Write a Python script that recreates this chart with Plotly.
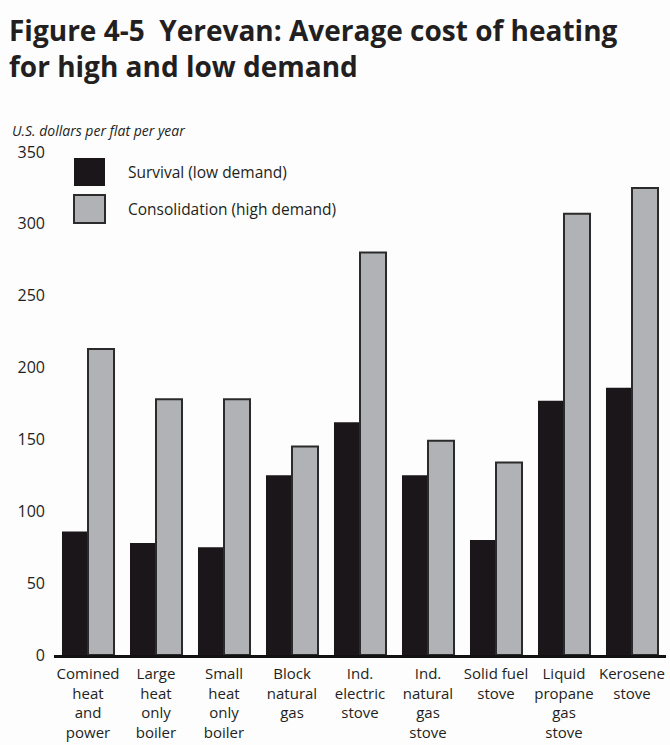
import plotly.graph_objects as go

# Heating options and average annual cost per flat (US$)
categories = [
    "Comined<br>heat<br>and<br>power",
    "Large<br>heat<br>only<br>boiler",
    "Small<br>heat<br>only<br>boiler",
    "Block<br>natural<br>gas",
    "Ind.<br>electric<br>stove",
    "Ind.<br>natural<br>gas<br>stove",
    "Solid fuel<br>stove",
    "Liquid<br>propane<br>gas<br>stove",
    "Kerosene<br>stove",
]
survival_low = [86, 78, 75, 125, 162, 125, 80, 177, 186]
consolidation_high = [213, 178, 178, 145, 280, 149, 134, 307, 325]
series_names = ["Survival (low demand)", "Consolidation (high demand)"]
y_ticks = [0, 50, 100, 150, 200, 250, 300, 350]
heading = "Figure 4-5  Yerevan: Average cost of heating<br>for high and low demand"

W, H = 670, 745
ML, MR, MT, MB = 54, 4, 152, 90
PW, PH = W - ML - MR, H - MT - MB

TEXT = "#231f20"
BLACK = "#1a1619"
GREY = "#b1b2b5"
EDGE = "#2b2b2b"
FONT = "Open Sans"


def px_x(px):
    return (px - ML) / PW


def px_y(py):
    return (H - MB - py) / PH


fig = go.Figure()
fig.add_trace(go.Bar(
    x=categories, y=survival_low, name=series_names[0],
    marker=dict(color=BLACK, line=dict(width=0)),
))
fig.add_trace(go.Bar(
    x=categories, y=consolidation_high, name=series_names[1],
    marker=dict(color=GREY, line=dict(color=EDGE, width=2)),
))

# Legend swatches and labels
legend_rows = [(158, 186, BLACK, 0), (195, 223, GREY, 2)]
for (top, bottom, color, lw), name in zip(legend_rows, series_names):
    fig.add_shape(
        type="rect", xref="paper", yref="paper",
        x0=px_x(74), x1=px_x(105), y0=px_y(bottom), y1=px_y(top),
        fillcolor=color, line=dict(color=EDGE if lw else color, width=lw),
    )
    fig.add_annotation(
        xref="paper", yref="paper", x=px_x(126), y=px_y((top + bottom) / 2),
        xanchor="left", yanchor="middle", text=name, showarrow=False,
        font=dict(family=FONT, size=15.5, color=TEXT),
    )

# Unit label above the value axis
fig.add_annotation(
    xref="paper", yref="paper", x=px_x(10), y=px_y(130),
    xanchor="left", yanchor="middle", showarrow=False,
    text="<i>U.S. dollars per flat per year</i>",
    font=dict(family=FONT, size=14, color=TEXT),
)

# Figure heading
fig.add_annotation(
    xref="paper", yref="paper", x=px_x(7), y=px_y(9),
    xanchor="left", yanchor="top", align="left", showarrow=False,
    text=f"<b>{heading}</b>",
    font=dict(family=FONT, size=28, color=TEXT),
)

fig.update_layout(
    width=W, height=H,
    margin=dict(l=ML, r=MR, t=MT, b=MB, autoexpand=False),
    paper_bgcolor="#fdfdfd", plot_bgcolor="#fdfdfd",
    barmode="group", bargap=0.235, bargroupgap=0,
    showlegend=False,
    font=dict(family=FONT, color=TEXT),
)
fig.update_xaxes(
    showline=True, linecolor="#111111", linewidth=3,
    showgrid=False, ticks="", zeroline=False, automargin=False,
    tickfont=dict(family=FONT, size=15, color=TEXT),
    ticklabelstandoff=3, tickangle=0,
)
fig.update_yaxes(
    range=[0, 350], tickvals=y_ticks, ticktext=[str(v) for v in y_ticks],
    showline=False, showgrid=False, zeroline=False, ticks="", automargin=False,
    tickfont=dict(family=FONT, size=16, color=TEXT),
    ticklabelstandoff=8,
)

fig.write_html("out.html")
